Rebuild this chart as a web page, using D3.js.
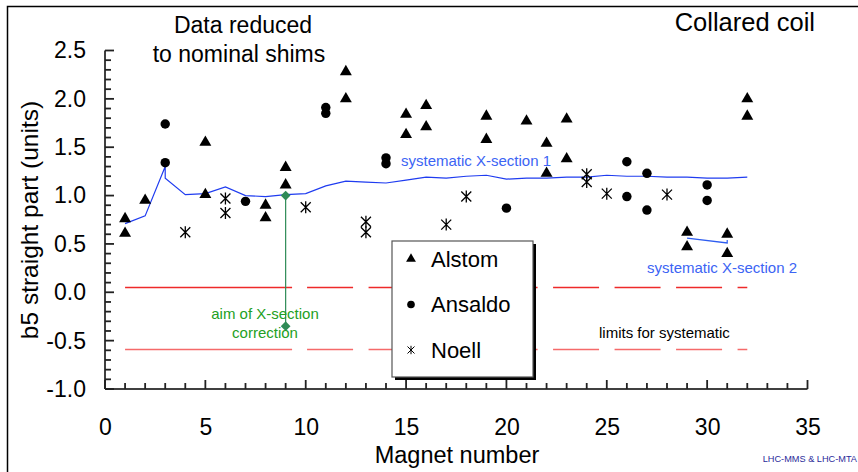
<!DOCTYPE html>
<html>
<head>
<meta charset="utf-8">
<script src="https://cdn.jsdelivr.net/npm/d3@7"></script>
<style>
  body { margin: 0; background: #fff; }
  text { font-family: "Liberation Sans", Arial, sans-serif; }
</style>
</head>
<body>
<script>
let alstomX = [1,1,2,5,5,8,8,9,9,12,12,15,15,16,16,19,19,21,22,22,23,23,29,29,31,31,32,32];
let alstomY = [0.76,0.61,0.95,1.55,1.01,0.90,0.77,1.29,1.11,2.28,2.00,1.84,1.63,1.93,1.71,1.82,1.58,1.77,1.54,1.23,1.79,1.38,0.62,0.47,0.60,0.40,2.00,1.82];

let ansaldoX = [3,3,7,11,11,14,14,20,26,26,27,27,30,30];
let ansaldoY = [1.74,1.34,0.94,1.91,1.85,1.39,1.33,0.87,1.35,0.99,1.23,0.85,1.11,0.95];

let noellX = [4,6,6,10,13,13,17,18,24,24,25,28];
let noellY = [0.62,0.97,0.82,0.88,0.73,0.62,0.70,0.99,1.22,1.14,1.02,1.01];

let sys1X = [1,2,3,3,4,5,6,7,8,9,10,11,12,13,14,15,16,17,18,19,20,21,22,23,24,25,26,27,28,29,30,31,32];
let sys1Y = [0.71,0.79,1.30,1.18,1.01,1.02,1.09,1.00,0.99,1.01,1.02,1.10,1.15,1.14,1.13,1.16,1.19,1.18,1.20,1.21,1.17,1.18,1.18,1.19,1.19,1.21,1.20,1.20,1.19,1.19,1.18,1.18,1.19];

let sys2X = [29,31,31];
let sys2Y = [0.56,0.51,0.54];

let limits = [0.05,-0.59];
let limitRange = [1,32];

let aimX = 9;
let aimY = [1.0,-0.35];

let xTicks = [0,5,10,15,20,25,30,35];
let yTicks = [-1.0,-0.5,0.0,0.5,1.0,1.5,2.0,2.5];
let legendNames = ["Alstom","Ansaldo","Noell"];

let W = 858, H = 472;
let x = d3.scaleLinear().domain([0,35]).range([105,807.5]);
let y = d3.scaleLinear().domain([-1,2.5]).range([389,50.5]);

let svg = d3.select("body").append("svg").attr("width",W).attr("height",H);
svg.append("rect").attr("width",W).attr("height",H).attr("fill","#fff");
svg.append("rect").attr("x",7.5).attr("y",6.5).attr("width",W+20).attr("height",H+20)
      .attr("fill","none").attr("stroke","#000").attr("stroke-width",1.5);

// axes: labels + domain from d3.axis, inside tick marks drawn from the same scales
let minorX = d3.range(0,36,1);
let minorY = d3.range(-10,26,1).map(d=>d/10);
let isMajorX = d=> d%5==0;
let isMajorY = d=> Math.abs(d*2-Math.round(d*2))<1e-6;

svg.append("g").attr("transform","translate(0,389)")
      .call(d3.axisBottom(x).tickValues(xTicks).tickSize(0).tickFormat(d3.format("d")))
      .call(g=>g.select(".domain").attr("d","M105,0H807.5").attr("stroke","#000").attr("stroke-width",1.5))
      .call(g=>g.selectAll("text").attr("font-size",23).attr("fill","#000").attr("dy","0.35em").attr("y",38));
svg.append("g").attr("transform","translate(105,0)")
      .call(d3.axisLeft(y).tickValues(yTicks).tickSize(0).tickFormat(d=>d3.format(".1f")(d).replace("−","-")))
      .call(g=>g.select(".domain").attr("d","M0,389V50.5").attr("stroke","#000").attr("stroke-width",1.5))
      .call(g=>g.selectAll("text").attr("font-size",23).attr("fill","#000").attr("x",-19));

svg.append("g").selectAll("line")
      .data(minorX)
      .enter().append("line")
                .attr("x1",d=>x(d))
                .attr("x2",d=>x(d))
                .attr("y1",389)
                .attr("y2",d=> 389-(isMajorX(d)?9:6))
                .attr("stroke","#222").attr("stroke-width",1.8);
svg.append("g").selectAll("line")
      .data(minorY)
      .enter().append("line")
                .attr("y1",d=>y(d))
                .attr("y2",d=>y(d))
                .attr("x1",105)
                .attr("x2",d=> 105+(isMajorY(d)?9:6))
                .attr("stroke","#222").attr("stroke-width",1.8);

svg.append("text").attr("x",457).attr("y",455).attr("font-size",23.5)
      .attr("text-anchor","middle").attr("dy","0.35em").text("Magnet number");
svg.append("text").attr("transform","translate(29,220) rotate(-90)").attr("font-size",24.5)
      .attr("text-anchor","middle").attr("dy","0.35em").text("b5 straight part (units)");

// limits for systematic
let dash = [167,15].concat(d3.range(9).flatMap(()=>[46,15.5])).join(" ");
svg.selectAll("line.limit")
      .data(limits)
      .enter().append("line")
                .attr("class","limit")
                .attr("x1",x(limitRange[0]))
                .attr("x2",x(limitRange[1]))
                .attr("y1",d=>Math.round(y(d))+0.5)
                .attr("y2",d=>Math.round(y(d))+0.5)
                .attr("stroke",(d,i)=> i==0 ? "#ee2a2a" : "#f56a6a")
                .attr("stroke-width",1.5)
                .attr("stroke-dasharray",dash);

// systematic lines
let line = d3.line().x(d=>x(d[0])).y(d=>y(d[1]));
svg.append("path").datum(d3.zip(sys1X,sys1Y)).attr("d",line)
      .attr("fill","none").attr("stroke","#1f3cf0").attr("stroke-width",1.2);
svg.append("path").datum(d3.zip(sys2X,sys2Y)).attr("d",line)
      .attr("fill","none").attr("stroke","#2d5cf0").attr("stroke-width",1.2);

// aim of correction
svg.append("line").attr("x1",x(aimX)).attr("x2",x(aimX)).attr("y1",y(aimY[0])).attr("y2",y(aimY[1]))
      .attr("stroke","#2e8b57").attr("stroke-width",1.2);
svg.selectAll("path.aim")
      .data(aimY)
      .enter().append("path")
                .attr("class","aim")
                .attr("d",d3.symbol(d3.symbolDiamond2,60)())
                .attr("transform",d=>`translate(${x(aimX)},${y(d)})`)
                .attr("fill","#2e8b57");

// markers
let tri = d3.symbol(d3.symbolTriangle,62)();
let dot = d3.symbol(d3.symbolCircle,70)();
let star = (s)=>`M${-s},${-s}L${s},${s}M${-s},${s}L${s},${-s}M0,${-s*1.2}V${s*1.2}`;

svg.selectAll("path.alstom")
      .data(d3.zip(alstomX,alstomY))
      .enter().append("path")
                .attr("class","alstom")
                .attr("d",tri)
                .attr("transform",d=>`translate(${x(d[0])},${y(d[1])})`)
                .attr("fill","#000");
svg.selectAll("path.ansaldo")
      .data(d3.zip(ansaldoX,ansaldoY))
      .enter().append("path")
                .attr("class","ansaldo")
                .attr("d",dot)
                .attr("transform",d=>`translate(${x(d[0])},${y(d[1])})`)
                .attr("fill","#000");
svg.selectAll("path.noell")
      .data(d3.zip(noellX,noellY))
      .enter().append("path")
                .attr("class","noell")
                .attr("d",star(5))
                .attr("transform",d=>`translate(${x(d[0])},${y(d[1])})`)
                .attr("stroke","#000").attr("stroke-width",1.3).attr("fill","none");

// annotations
svg.append("text").attr("x",401).attr("y",161).attr("dy","0.35em").attr("font-size",15)
      .attr("fill","#3c64f4").text("systematic X-section 1");
svg.append("text").attr("x",647).attr("y",268).attr("dy","0.35em").attr("font-size",15)
      .attr("fill","#3c64f4").text("systematic X-section 2");
svg.append("text").attr("x",599).attr("y",333).attr("dy","0.35em").attr("font-size",15)
      .attr("fill","#000").text("limits for systematic");
svg.append("text").attr("text-anchor","middle").attr("font-size",15).attr("fill","#23a023")
      .selectAll("tspan").data(["aim of X-section","correction"])
      .enter().append("tspan")
      .attr("x",265).attr("y",(d,i)=>314+i*19).attr("dy","0.35em").text(d=>d);

svg.append("text").attr("text-anchor","middle").attr("font-size",23)
      .selectAll("tspan").data(["Data reduced","to nominal shims"])
      .enter().append("tspan")
      .attr("x",(d,i)=> i==0 ? 243 : 239).attr("y",(d,i)=>25+i*29).attr("dy","0.35em").text(d=>d);
svg.append("text").attr("x",815).attr("y",22).attr("dy","0.35em").attr("font-size",25.5)
      .attr("text-anchor","end").text("Collared coil");
svg.append("text").attr("x",857).attr("y",459).attr("dy","0.35em").attr("font-size",9.2)
      .attr("text-anchor","end").attr("fill","#2b2b9a").text("LHC-MMS & LHC-MTA");

// legend
let lg = svg.append("g").attr("transform","translate(392,241)");
lg.append("rect").attr("x",3).attr("y",3).attr("width",141).attr("height",136).attr("fill","#000");
lg.append("rect").attr("width",141).attr("height",136).attr("fill","#fff").attr("stroke","#555").attr("stroke-width",1.2);
let legendMarks = [d3.symbol(d3.symbolTriangle,42)(), d3.symbol(d3.symbolCircle,46)(), star(3.5)];
lg.selectAll("g.item")
      .data(legendNames)
      .enter().append("g")
                .attr("class","item")
                .attr("transform",(d,i)=>`translate(0,${18+i*45.5})`)
                .each(function(d,i){
                  let g = d3.select(this);
                  g.append("path").attr("d",legendMarks[i]).attr("transform","translate(19,0)")
                        .attr("fill",i<2 ? "#000" : "none").attr("stroke",i<2 ? "none" : "#000");
                  g.append("text").attr("x",39).attr("dy","0.35em").attr("font-size",22).text(d);
                });
</script>
</body>
</html>
